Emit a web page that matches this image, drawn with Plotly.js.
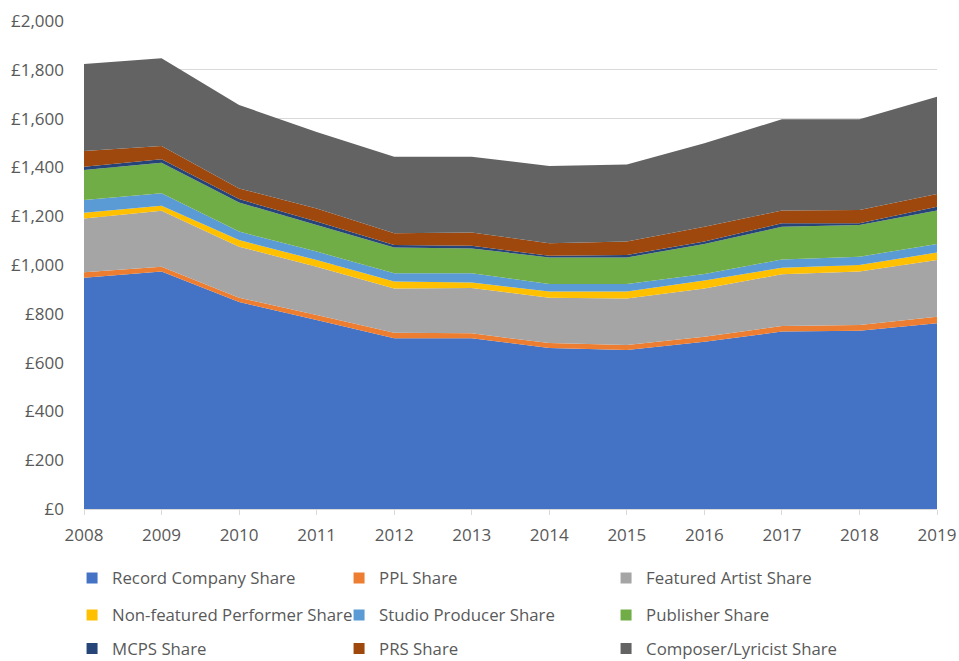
<!DOCTYPE html>
<html>
<head>
<meta charset="utf-8">
<script src="https://cdn.plot.ly/plotly-3.0.1.min.js"></script>
<style>
  html, body { margin: 0; padding: 0; background: #ffffff; }
  #chart { width: 959px; height: 661px; }
</style>
</head>
<body>
<div id="chart"></div>
<script>
var years = ['2008','2009','2010','2011','2012','2013','2014','2015','2016','2017','2018','2019'];

var recordCompany   = [948, 973, 848, 775, 700, 700, 660, 652, 685, 727, 731, 761];
var ppl             = [22, 20, 18, 20, 22, 20, 20, 20, 21, 23, 23, 27];
var featuredArtist  = [221, 229, 209, 198, 182, 186, 186, 191, 198, 212, 219, 232];
var nonFeatured     = [23, 21, 27, 27, 28, 22, 25, 28, 32, 27, 27, 31];
var studioProducer  = [52, 51, 35, 35, 34, 38, 31, 31, 27, 34, 34, 35];
var publisher       = [123, 125, 119, 109, 106, 102, 109, 109, 123, 134, 130, 137];
var mcps            = [14, 14, 14, 14, 10, 11, 7, 10, 10, 14, 7, 16];
var prs             = [64, 55, 44, 54, 48, 54, 51, 55, 61, 52, 54, 52];
var composer        = [357, 359, 342, 313, 314, 311, 317, 316, 342, 374, 372, 399];

var seriesNames = ['Record Company Share','PPL Share','Featured Artist Share',
                   'Non-featured Performer Share','Studio Producer Share','Publisher Share',
                   'MCPS Share','PRS Share','Composer/Lyricist Share'];
var seriesValues = [recordCompany, ppl, featuredArtist, nonFeatured, studioProducer,
                    publisher, mcps, prs, composer];
var colors = ['#4472C4','#ED7D31','#A5A5A5','#FFC000','#5B9BD5','#70AD47','#264478','#9E480E','#636363'];
var legendIds = ['legend','legend','legend','legend2','legend2','legend2','legend3','legend3','legend3'];

var traces = [];
for (var i = 0; i < seriesNames.length; i++) {
  traces.push({
    type: 'scatter',
    x: years,
    y: seriesValues[i],
    name: seriesNames[i],
    stackgroup: 'one',
    mode: 'none',
    fillcolor: colors[i],
    line: {width: 0},
    showlegend: false,
    hoverinfo: 'x+y+name'
  });
}
for (var j = 0; j < seriesNames.length; j++) {
  traces.push({
    type: 'scatter',
    x: [null],
    y: [null],
    name: seriesNames[j],
    mode: 'markers',
    marker: {symbol: 'square', size: 11, color: colors[j]},
    legend: legendIds[j],
    showlegend: true,
    hoverinfo: 'skip'
  });
}

var fontFam = '"Open Sans", "Noto Sans", sans-serif';
var legendBase = {
  orientation: 'h',
  traceorder: 'normal',
  xanchor: 'left',
  yanchor: 'middle',
  x: -0.014,
  entrywidth: 222,
  entrywidthmode: 'pixels',
  itemwidth: 30,
  font: {family: fontFam, size: 16.8, color: '#595959'},
  bgcolor: 'rgba(0,0,0,0)'
};
function mkLegend(y) {
  var o = {};
  for (var k in legendBase) o[k] = legendBase[k];
  o.y = y;
  return o;
}

var layout = {
  width: 959,
  height: 661,
  margin: {l: 84, r: 22, t: 21, b: 152, autoexpand: false},
  paper_bgcolor: '#ffffff',
  plot_bgcolor: '#ffffff',
  font: {family: fontFam, size: 17, color: '#595959'},
  showlegend: true,
  xaxis: {
    type: 'category',
    range: [0, 11],
    showgrid: false,
    showline: true,
    linecolor: '#D9D9D9',
    linewidth: 1,
    ticks: 'outside',
    ticklen: 5,
    tickcolor: '#D9D9D9',
    ticklabelstandoff: 6,
    tickfont: {family: fontFam, size: 17, color: '#595959'},
    zeroline: false,
    fixedrange: true
  },
  yaxis: {
    range: [0, 2000],
    dtick: 200,
    tickprefix: '£',
    tickformat: ',d',
    separatethousands: true,
    showgrid: true,
    gridcolor: '#D9D9D9',
    gridwidth: 1,
    showline: false,
    zeroline: false,
    ticks: '',
    ticklabelstandoff: 19,
    tickfont: {family: fontFam, size: 17, color: '#595959'},
    fixedrange: true
  },
  legend: mkLegend(-0.1414),
  legend2: mkLegend(-0.2172),
  legend3: mkLegend(-0.286)
};

Plotly.newPlot('chart', traces, layout, {displayModeBar: false, staticPlot: true});
</script>
</body>
</html>
